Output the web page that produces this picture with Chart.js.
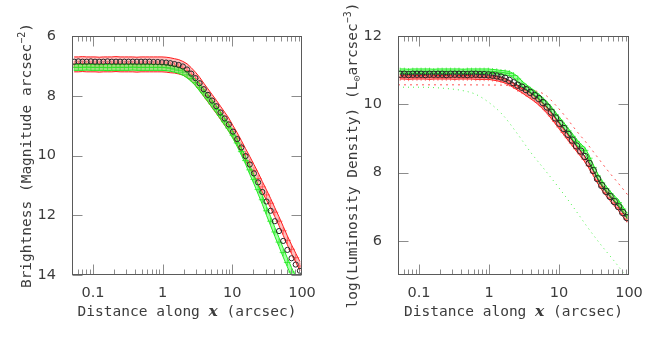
<!DOCTYPE html>
<html><head><meta charset="utf-8">
<script src="https://cdn.jsdelivr.net/npm/chart.js@4.4.1/dist/chart.umd.min.js"></script>
<style>
html,body{margin:0;padding:0;background:#fff;}
#wrap{position:relative;width:664px;height:340px;background:#fff;}
canvas{position:absolute;top:0;}
#c1{left:0px} #c2{left:332px}
</style></head><body>
<div id="wrap"><canvas id="c1" width="332" height="340"></canvas><canvas id="c2" width="332" height="340"></canvas></div>
<script>
// ---------------- data ----------------
const radii = [0.0537,0.0617,0.0708,0.0813,0.0933,0.107,0.123,0.141,0.162,0.186,0.214,0.245,0.282,0.324,0.372,0.427,0.490,0.562,0.646,0.741,0.851,0.977,
  1.122,1.288,1.479,1.698,1.950,2.239,2.570,2.951,3.388,3.890,4.467,5.129,5.888,6.761,7.762,8.913,10.23,11.75,13.49,15.49,17.78,20.42,23.44,26.92,30.90,35.48,40.74,46.77,53.70,61.66,70.79,81.28,93.33];

// Left panel: surface brightness (mag arcsec^-2)
const brightBlack = [6.86,6.85,6.86,6.86,6.85,6.86,6.86,6.86,6.85,6.86,6.86,6.86,6.86,6.86,6.86,6.86,6.86,6.86,6.86,6.87,6.87,6.88,
  6.89,6.91,6.94,6.97,7.02,7.12,7.26,7.41,7.58,7.78,7.97,8.16,8.35,8.56,8.76,8.96,9.2,9.45,9.73,10.02,10.3,10.6,10.9,11.22,11.54,11.85,12.2,12.53,12.86,13.16,13.44,13.65,13.86];
const brightRed = [6.95,6.95,6.94,6.95,6.95,6.95,6.96,6.95,6.95,6.95,6.94,6.95,6.95,6.95,6.95,6.96,6.95,6.95,6.95,6.95,6.95,6.95,
  6.96,6.98,7.0,7.03,7.08,7.16,7.28,7.43,7.6,7.8,7.99,8.18,8.37,8.57,8.77,8.97,9.2,9.44,9.7,9.97,10.23,10.5,10.77,11.05,11.32,11.6,11.9,12.2,12.52,12.84,13.14,13.42,13.7];
const brightRedErr = [0.25,0.25,0.25,0.25,0.25,0.25,0.25,0.25,0.25,0.25,0.25,0.25,0.25,0.25,0.25,0.25,0.25,0.25,0.25,0.25,0.25,0.25,
  0.25,0.25,0.24,0.24,0.23,0.23,0.22,0.22,0.22,0.22,0.22,0.22,0.22,0.22,0.22,0.22,0.2,0.2,0.2,0.2,0.2,0.2,0.2,0.18,0.17,0.16,0.15,0.15,0.15,0.15,0.15,0.15,0.15];
const brightGreen = [7.05,7.05,7.05,7.04,7.05,7.05,7.05,7.05,7.06,7.05,7.05,7.05,7.05,7.05,7.04,7.05,7.05,7.05,7.05,7.05,7.05,7.05,
  7.06,7.08,7.11,7.15,7.21,7.3,7.42,7.56,7.72,7.9,8.08,8.27,8.46,8.66,8.87,9.08,9.32,9.58,9.87,10.17,10.48,10.8,11.14,11.48,11.85,12.2,12.56,12.9,13.25,13.58,13.9,14.2,14.45];
const brightGreenErr = [0.1,0.1,0.1,0.1,0.1,0.1,0.1,0.1,0.1,0.1,0.1,0.1,0.1,0.1,0.1,0.1,0.1,0.1,0.1,0.1,0.1,0.1,
  0.1,0.1,0.1,0.1,0.1,0.1,0.1,0.1,0.12,0.12,0.12,0.12,0.12,0.12,0.12,0.12,0.12,0.12,0.12,0.12,0.15,0.15,0.15,0.15,0.15,0.15,0.15,0.15,0.15,0.15,0.15,0.15,0.15];

// Right panel: log luminosity density
const lumBlack = [10.88,10.88,10.87,10.88,10.88,10.88,10.87,10.88,10.88,10.88,10.88,10.87,10.88,10.88,10.88,10.88,10.87,10.88,10.88,10.87,10.87,10.86,
  10.85,10.83,10.8,10.76,10.7,10.63,10.56,10.5,10.43,10.35,10.26,10.17,10.05,9.92,9.77,9.6,9.44,9.29,9.12,8.95,8.78,8.63,8.47,8.27,8.06,7.82,7.62,7.45,7.3,7.15,7.0,6.83,6.68];
const lumRed = [10.79,10.79,10.78,10.79,10.79,10.79,10.79,10.78,10.79,10.79,10.79,10.79,10.79,10.78,10.79,10.79,10.79,10.79,10.78,10.78,10.78,10.78,
  10.77,10.75,10.72,10.68,10.62,10.55,10.47,10.4,10.33,10.25,10.16,10.06,9.94,9.81,9.66,9.5,9.34,9.18,9.02,8.86,8.7,8.55,8.39,8.2,7.99,7.77,7.58,7.41,7.26,7.11,6.97,6.8,6.64];
const lumRedErr = [0.05,0.05,0.05,0.05,0.05,0.05,0.05,0.05,0.05,0.05,0.05,0.05,0.05,0.05,0.05,0.05,0.05,0.05,0.05,0.05,0.05,0.05,
  0.06,0.06,0.06,0.06,0.06,0.06,0.06,0.06,0.08,0.08,0.08,0.08,0.08,0.08,0.08,0.08,0.08,0.08,0.08,0.08,0.08,0.08,0.08,0.08,0.08,0.08,0.08,0.08,0.08,0.08,0.08,0.08,0.08];
const lumGreen = [10.97,10.97,10.96,10.97,10.97,10.97,10.97,10.97,10.96,10.97,10.97,10.97,10.97,10.97,10.97,10.96,10.97,10.97,10.97,10.97,10.97,10.97,
  10.96,10.95,10.93,10.92,10.9,10.84,10.74,10.6,10.5,10.41,10.32,10.22,10.11,9.99,9.85,9.69,9.53,9.38,9.22,9.06,8.9,8.76,8.65,8.42,8.15,7.9,7.7,7.53,7.38,7.24,7.12,6.93,6.74];
const lumGreenErr = [0.065,0.065,0.065,0.065,0.065,0.065,0.065,0.065,0.065,0.065,0.065,0.065,0.065,0.065,0.065,0.065,0.065,0.065,0.065,0.065,0.065,0.065,
  0.06,0.06,0.06,0.06,0.06,0.06,0.08,0.08,0.08,0.08,0.08,0.08,0.08,0.08,0.08,0.08,0.08,0.08,0.08,0.08,0.08,0.08,0.08,0.08,0.08,0.08,0.08,0.08,0.08,0.08,0.08,0.08,0.08];

// model components (dotted) in right panel
const redCompX = [0.05,0.316,1,1.585,2.239,3.162,4.467,6.31,8.913,12.59,17.78,25.12,35.48,50.12,70.79,100];
const redCompY = [10.57,10.57,10.565,10.56,10.54,10.49,10.4,10.28,9.98,9.62,9.22,8.85,8.45,8.05,7.68,7.3];
const greenCompX = [0.05,0.1,0.158,0.251,0.398,0.631,1,1.585,2.512,3.981,6.31,10,15.85,25.12,39.81,63.1,100];
const greenCompY = [10.5,10.5,10.49,10.46,10.41,10.3,10.05,9.68,9.15,8.58,8.07,7.55,7.0,6.42,5.88,5.38,4.85];

// tick labels
const xTickVals = [0.1, 1, 10, 100];
const leftYTicks = [6, 8, 10, 12, 14];
const rightYTicks = [6, 8, 10, 12];

// ---------------- drawing ----------------
const TXT = '#3c3c3c';
const MONO = "'DejaVu Sans Mono', monospace";
const FM = "14.5px " + MONO;
const FS = "10px " + MONO;
const FX = "bold italic 15.5px 'DejaVu Serif', serif";

const frameTicks = {
  id: 'frameTicks',
  afterDatasetsDraw(chart, args, opts) {
    const {ctx, chartArea: a} = chart;
    const xs = chart.scales.x, ys = chart.scales.y;
    ctx.save();
    ctx.lineWidth = 1;
    ctx.strokeStyle = '#8c8c8c';
    const seg = (x1,y1,x2,y2)=>{ctx.beginPath();ctx.moveTo(x1,y1);ctx.lineTo(x2,y2);ctx.stroke();};
    const T = Math.round(a.top)+0.5, B = Math.round(a.bottom)-0.5;
    const L = Math.round(a.left)+0.5, R = Math.round(a.right)-0.5;
    for (const d of [0.01,0.1,1,10]) {
      for (let k=1;k<10;k++) {
        const v = d*k;
        if (v < xs.min || v > xs.max) continue;
        const px = Math.round(xs.getPixelForValue(v))+0.5;
        const len = (k===1) ? 10 : 5;
        seg(px,B,px,B-len); seg(px,T,px,T+len);
      }
    }
    for (const v of opts.yTicks) {
      const py = Math.round(ys.getPixelForValue(v))+0.5;
      seg(L,py,L+10,py); seg(R,py,R-10,py);
    }
    ctx.strokeStyle = '#5a5a5a';
    ctx.strokeRect(L, T, R-L, B-T);
    ctx.restore();
  }
};

function drawSegs(ctx, segs, cx, cy, rot) {
  ctx.save();
  ctx.translate(cx, cy);
  if (rot) ctx.rotate(-Math.PI/2);
  let total = 0;
  const w = [];
  for (const s of segs) { ctx.font = s.f; const m = ctx.measureText(s.t).width; w.push(m); total += m; }
  let x = -total/2;
  ctx.textBaseline = 'middle'; ctx.textAlign = 'left'; ctx.fillStyle = TXT;
  segs.forEach((s,i)=>{ ctx.font = s.f; ctx.fillText(s.t, x, s.dy||0); x += w[i]; });
  ctx.restore();
}

const richTitles = {
  id: 'richTitles',
  afterDraw(chart, args, opts) {
    const a = chart.chartArea, ctx = chart.ctx;
    drawSegs(ctx, opts.x, (a.left+a.right)/2, opts.xY, false);
    drawSegs(ctx, opts.y, opts.yX, (a.top+a.bottom)/2, true);
  }
};

function pts(xv, yv) { return xv.map((x,i)=>({x, y: yv[i]})); }
function band(xv, c, e, color, fillColor, ord) {
  return [
    {data: xv.map((x,i)=>({x, y: c[i]+e[i]})), borderColor: color, borderWidth: 1, pointRadius: 0, fill: false, order: ord},
    {data: xv.map((x,i)=>({x, y: c[i]-e[i]})), borderColor: color, borderWidth: 1, pointRadius: 0, fill: '-1', backgroundColor: fillColor, order: ord}
  ];
}
function crosses(xv, c, color, ord) {
  return {data: pts(xv, c), showLine: false, pointStyle: 'cross', pointRadius: 3.5, borderColor: color, borderWidth: 1, order: ord};
}
function circles(xv, c, r) {
  return {data: pts(xv, c), showLine: false, pointStyle: 'circle', pointRadius: r, borderColor: '#262626', backgroundColor: 'rgba(0,0,0,0)', borderWidth: 1, order: 0};
}

function panel(id, cfg) {
  return new Chart(document.getElementById(id), {
    type: 'line',
    data: {datasets: cfg.datasets},
    plugins: [frameTicks, richTitles],
    options: {
      responsive: false, animation: false, devicePixelRatio: 1,
      layout: {padding: {top: 36, right: cfg.padRight, bottom: 0, left: 0}},
      elements: {line: {tension: 0}},
      plugins: {
        legend: {display: false}, tooltip: {enabled: false},
        frameTicks: {yTicks: cfg.yTicks},
        richTitles: cfg.titles
      },
      scales: {
        x: {
          type: 'logarithmic', min: 0.05, max: 100,
          grid: {display: false}, border: {display: false},
          afterBuildTicks: s => { s.ticks = xTickVals.map(v => ({value: v})); },
          afterFit: s => { s.height = 65; },
          ticks: {autoSkip: false, maxRotation: 0, padding: 2, color: TXT, font: {family: 'DejaVu Sans', size: 14.5}, callback: v => String(v)}
        },
        y: {
          type: 'linear', min: cfg.yMin, max: cfg.yMax, reverse: cfg.reverse,
          grid: {display: false}, border: {display: false},
          afterBuildTicks: s => { s.ticks = cfg.yTicks.map(v => ({value: v})); },
          afterFit: s => { s.width = cfg.yWidth; },
          ticks: {padding: 8, color: TXT, font: {family: 'DejaVu Sans', size: 14.5}, callback: v => String(v)}
        }
      }
    }
  });
}

const xTitle = [{t: 'Distance along ', f: FM}, {t: 'x', f: FX}, {t: ' (arcsec)', f: FM}];

panel('c1', {
  yMin: 6, yMax: 14, reverse: true, yTicks: leftYTicks, yWidth: 72, padRight: 30,
  titles: {
    x: xTitle, xY: 312,
    y: [{t: 'Brightness (Magnitude arcsec', f: FM}, {t: '\u22122', f: FS, dy: -5}, {t: ')', f: FM}], yX: 27
  },
  datasets: [
    ...band(radii, brightRed, brightRedErr, '#ff1a1a', 'rgba(255,60,60,0.33)', 6),
    crosses(radii, brightRed, 'rgba(255,40,40,0.6)', 5),
    ...band(radii, brightGreen, brightGreenErr, '#22ee22', 'rgba(60,255,60,0.45)', 4),
    crosses(radii, brightGreen, 'rgba(30,230,30,0.7)', 3),
    circles(radii, brightBlack, 2.6)
  ]
});

panel('c2', {
  yMin: 5, yMax: 12, reverse: false, yTicks: rightYTicks, yWidth: 66, padRight: 35,
  titles: {
    x: xTitle, xY: 312,
    y: [{t: 'log(Luminosity Density) (L', f: FM}, {t: '\u2299', f: FS, dy: 4}, {t: 'arcsec', f: FM}, {t: '\u22123', f: FS, dy: -5}, {t: ')', f: FM}], yX: 21.5
  },
  datasets: [
    {data: pts(redCompX, redCompY), borderColor: 'rgba(255,40,40,0.8)', borderWidth: 1, borderDash: [2,4], pointRadius: 0, cubicInterpolationMode: 'monotone', order: 9},
    {data: pts(greenCompX, greenCompY), borderColor: 'rgba(40,240,40,0.85)', borderWidth: 1, borderDash: [1,4], pointRadius: 0, cubicInterpolationMode: 'monotone', order: 9},
    ...band(radii, lumRed, lumRedErr, '#ff1a1a', 'rgba(255,60,60,0.35)', 6),
    crosses(radii, lumRed, 'rgba(255,40,40,0.6)', 5),
    ...band(radii, lumGreen, lumGreenErr, '#22ee22', 'rgba(60,255,60,0.45)', 4),
    crosses(radii, lumGreen, 'rgba(30,230,30,0.7)', 3),
    {data: pts(radii, lumBlack), borderColor: '#333', borderWidth: 1, pointRadius: 0, order: 1},
    circles(radii, lumBlack, 3.2)
  ]
});
</script>
</body></html>
